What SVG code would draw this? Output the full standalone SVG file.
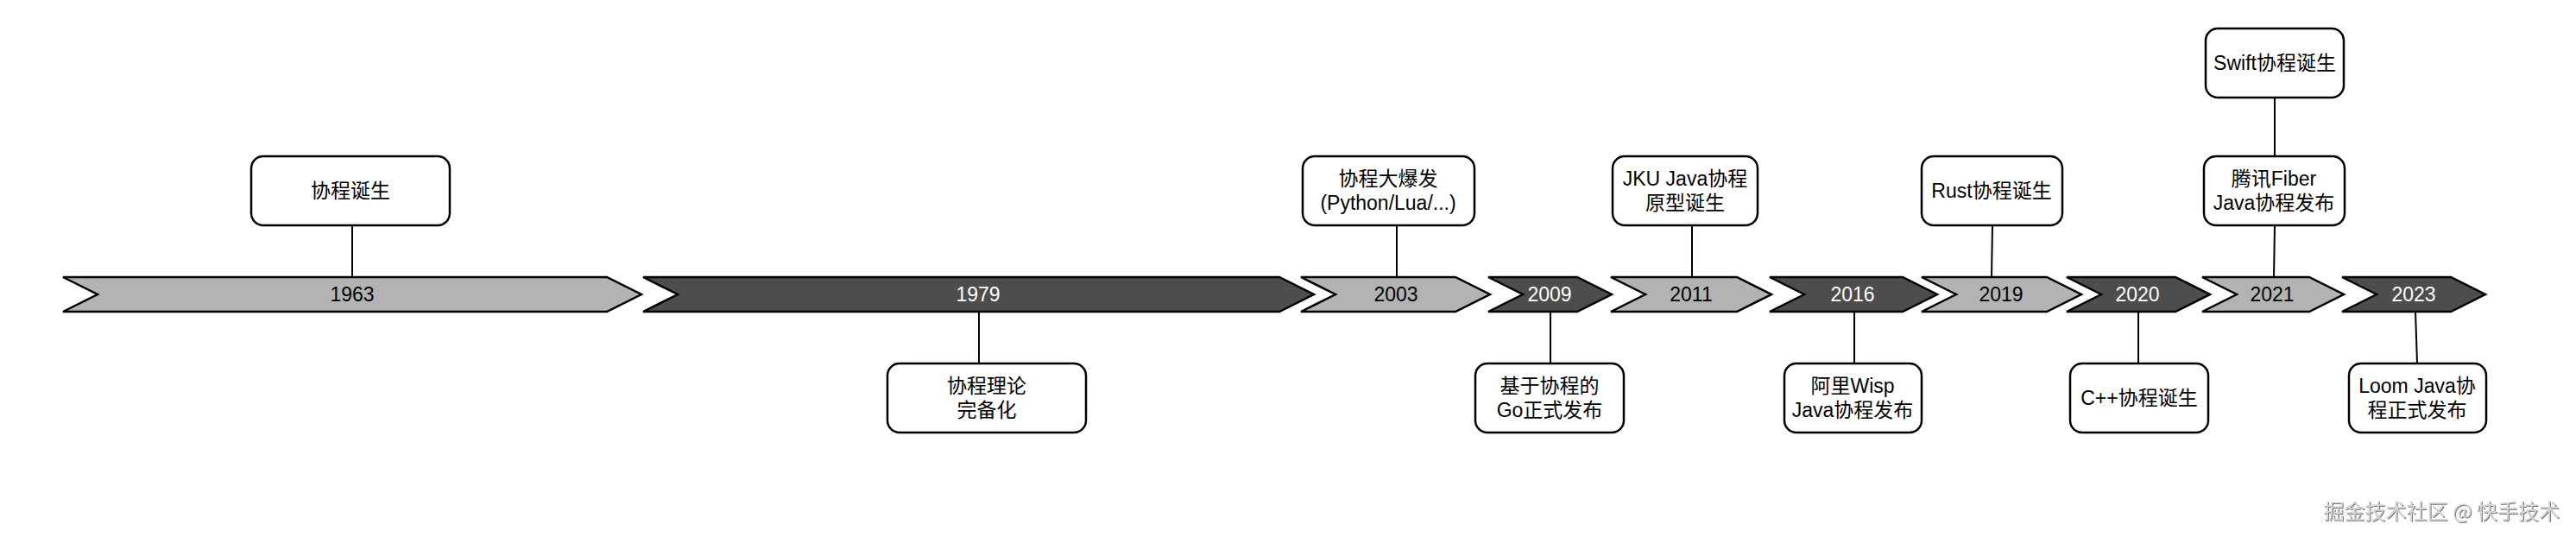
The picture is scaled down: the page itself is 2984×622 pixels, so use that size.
<svg xmlns="http://www.w3.org/2000/svg" width="2984" height="622" viewBox="0 0 2984 622">
<defs>
<style>
.chev{stroke:#000;stroke-width:2.5;stroke-linejoin:miter}
.light{fill:#B3B3B3}
.dark{fill:#4D4D4D}
.yl{font-family:"Liberation Sans","Noto Sans CJK SC",sans-serif;font-size:23px;text-anchor:middle;dominant-baseline:central}
.yl.d{fill:#FFFFFF}
.yl.l{fill:#000000}
.box{fill:#FFFFFF;stroke:#000;stroke-width:2.5}
.bt{font-family:"Liberation Sans","Noto Sans CJK SC",sans-serif;font-size:23px;text-anchor:middle;dominant-baseline:central;fill:#000}
.conn{stroke:#000;stroke-width:2;fill:none}
.wm{font-family:"Noto Sans CJK SC","Liberation Sans",sans-serif;font-size:24px;fill:#D4D4D4;text-anchor:end}
</style>
<filter id="emb" x="-5%" y="-30%" width="110%" height="160%">
<feDropShadow dx="1" dy="1" stdDeviation="0.6" flood-color="#666" flood-opacity="0.9"/>
</filter>
</defs>

<g id="timeline">
<g id="y1963"><polygon class="chev light" points="73,321 703,321 743,341 703,361 73,361 113,341"/><text class="yl l" x="408" y="341">1963</text></g>
<g id="y1979"><polygon class="chev dark" points="745,321 1482,321 1522,341 1482,361 745,361 785,341"/><text class="yl d" x="1133" y="341">1979</text></g>
<g id="y2003"><polygon class="chev light" points="1507,321 1686,321 1726,341 1686,361 1507,361 1547,341"/><text class="yl l" x="1617" y="341">2003</text></g>
<g id="y2009"><polygon class="chev dark" points="1724,321 1827,321 1867,341 1827,361 1724,361 1764,341"/><text class="yl d" x="1795" y="341">2009</text></g>
<g id="y2011"><polygon class="chev light" points="1866,321 2012,321 2052,341 2012,361 1866,361 1906,341"/><text class="yl l" x="1959" y="341">2011</text></g>
<g id="y2016"><polygon class="chev dark" points="2050,321 2204,321 2244,341 2204,361 2050,361 2090,341"/><text class="yl d" x="2146" y="341">2016</text></g>
<g id="y2019"><polygon class="chev light" points="2226,321 2371,321 2411,341 2371,361 2226,361 2266,341"/><text class="yl l" x="2318" y="341">2019</text></g>
<g id="y2020"><polygon class="chev dark" points="2394,321 2520,321 2560,341 2520,361 2394,361 2434,341"/><text class="yl d" x="2476" y="341">2020</text></g>
<g id="y2021"><polygon class="chev light" points="2551,321 2675,321 2715,341 2675,361 2551,361 2591,341"/><text class="yl l" x="2632" y="341">2021</text></g>
<g id="y2023"><polygon class="chev dark" points="2713,321 2839,321 2879,341 2839,361 2713,361 2753,341"/><text class="yl d" x="2796" y="341">2023</text></g>
</g>

<g id="connectors">
<line class="conn" x1="408" y1="261" x2="408" y2="321"/>
<line class="conn" x1="1134" y1="361" x2="1134" y2="421"/>
<line class="conn" x1="1618" y1="261" x2="1618" y2="321"/>
<line class="conn" x1="1796" y1="361" x2="1796" y2="421"/>
<line class="conn" x1="1960" y1="261" x2="1960" y2="321"/>
<line class="conn" x1="2148" y1="361" x2="2148" y2="421"/>
<line class="conn" x1="2308" y1="261" x2="2307" y2="321"/>
<line class="conn" x1="2477" y1="361" x2="2477" y2="421"/>
<line class="conn" x1="2635" y1="113" x2="2635" y2="181"/>
<line class="conn" x1="2635" y1="261" x2="2634" y2="321"/>
<line class="conn" x1="2798" y1="361" x2="2800" y2="421"/>
</g>

<g id="n1963"><rect class="box" x="291" y="181" width="230" height="80" rx="14"/><text class="bt" x="406" y="221">协程诞生</text></g>
<g id="n1979"><rect class="box" x="1028" y="421" width="230" height="80" rx="14"/><text class="bt" x="1143" y="447">协程理论</text><text class="bt" x="1143" y="475">完备化</text></g>
<g id="n2003"><rect class="box" x="1509" y="181" width="199" height="80" rx="14"/><text class="bt" x="1608" y="207">协程大爆发</text><text class="bt" x="1608" y="235">(Python/Lua/...)</text></g>
<g id="n2009"><rect class="box" x="1709" y="421" width="172" height="80" rx="14"/><text class="bt" x="1795" y="447">基于协程的</text><text class="bt" x="1795" y="475">Go正式发布</text></g>
<g id="n2011"><rect class="box" x="1868" y="181" width="168" height="80" rx="14"/><text class="bt" x="1952" y="207">JKU Java协程</text><text class="bt" x="1952" y="235">原型诞生</text></g>
<g id="n2016"><rect class="box" x="2067" y="421" width="159" height="80" rx="14"/><text class="bt" x="2146" y="447">阿里Wisp</text><text class="bt" x="2146" y="475">Java协程发布</text></g>
<g id="n2019"><rect class="box" x="2226" y="181" width="163" height="80" rx="14"/><text class="bt" x="2307" y="221">Rust协程诞生</text></g>
<g id="n2020"><rect class="box" x="2398" y="421" width="160" height="80" rx="14"/><text class="bt" x="2478" y="461">C++协程诞生</text></g>
<g id="n2021a"><rect class="box" x="2555" y="33" width="160" height="80" rx="14"/><text class="bt" x="2635" y="73">Swift协程诞生</text></g>
<g id="n2021b"><rect class="box" x="2553" y="181" width="163" height="80" rx="14"/><text class="bt" x="2634" y="207">腾讯Fiber</text><text class="bt" x="2634" y="235">Java协程发布</text></g>
<g id="n2023"><rect class="box" x="2721" y="421" width="159" height="80" rx="14"/><text class="bt" x="2800" y="447">Loom Java协</text><text class="bt" x="2800" y="475">程正式发布</text></g>

<text class="wm" x="2965" y="601" filter="url(#emb)">掘金技术社区 @ 快手技术</text>
</svg>
